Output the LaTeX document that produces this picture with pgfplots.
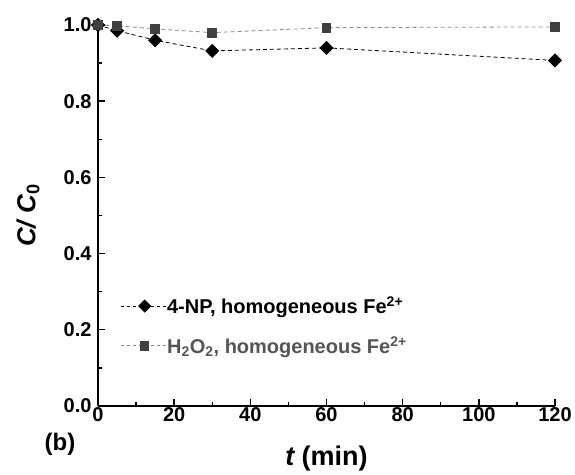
\documentclass[border=0pt]{standalone}
\usepackage{pgfplots}
\pgfplotsset{compat=1.18}
\usepackage{fontspec}
\setmainfont{Liberation Sans}
\definecolor{sqgray}{HTML}{404040}
\definecolor{lngray}{HTML}{8A8A8A}
\definecolor{txgray}{HTML}{555555}
\begin{document}
\begin{tikzpicture}
\begin{axis}[
  scale only axis, width=457pt, height=381pt,
  xmin=0, xmax=120, ymin=0, ymax=1.0,
  axis x line*=bottom, axis y line*=left,
  axis line style={line width=1.6pt, -},
  tick style={line width=1.4pt, black},
  tick align=inside,
  major tick length=7pt, minor tick length=4pt,
  xtick={0,20,...,120}, minor xtick={10,30,...,110},
  ytick={0,0.2,...,1.0}, minor ytick={0.1,0.3,...,0.9},
  /pgf/number format/assume math mode=true,
  xticklabel style={font=\fontsize{20}{22}\selectfont\bfseries, /pgf/number format/fixed, yshift=2pt},
  yticklabel style={font=\fontsize{20}{22}\selectfont\bfseries, /pgf/number format/fixed, /pgf/number format/fixed zerofill, /pgf/number format/precision=1, xshift=-3pt},
  xlabel={\bfseries\itshape t\upshape\ (min)},
  ylabel={\bfseries\itshape C/ C\textsubscript{\upshape 0}},
  xlabel style={font=\fontsize{27}{30}\selectfont, at={(axis description cs:0.5,0)}, anchor=center, yshift=-53pt},
  ylabel style={font=\fontsize{26}{29}\selectfont, at={(axis description cs:0,0.5)}, anchor=center, rotate=0, yshift=70pt},
  clip=false,
  legend style={draw=none, fill=none, at={(axis cs:5.8,0.29)}, anchor=north west, font=\fontsize{20}{22}\selectfont\bfseries, row sep=19pt, inner sep=0pt, nodes={inner sep=1pt}},
  legend cell align=left,
  legend image code/.code={\draw[#1, dash pattern=on 3pt off 3pt] (0pt,0pt) -- (45pt,0pt); \draw[#1, only marks, mark size=0.92*\pgfplotmarksize] plot coordinates {(24pt,0pt)};},
]
\addplot[black, line width=0.8pt, dash pattern=on 4pt off 3pt, mark=square*, mark size=4.6pt, mark options={solid, fill=black, rotate=45}] coordinates {
  (0,1.0) (5,0.985) (15,0.96) (30,0.932) (60,0.94) (120,0.907)};
\addlegendentry{4-NP, homogeneous Fe\textsuperscript{2+}}
\addplot[lngray, line width=0.8pt, dash pattern=on 4pt off 3pt, mark=square*, mark size=4.4pt, mark options={solid, fill=sqgray, draw=sqgray}] coordinates {
  (0,1.0) (5,0.998) (15,0.99) (30,0.98) (60,0.993) (120,0.995)};
\addlegendentry{\textcolor{txgray}{H\textsubscript{2}O\textsubscript{2}, homogeneous Fe\textsuperscript{2+}}}
\node[font=\fontsize{24}{27}\selectfont\bfseries, anchor=center] at (axis description cs:-0.083,-0.1) {(b)};
\end{axis}
\path ([xshift=-98pt,yshift=-68pt]current axis.south west) rectangle ([xshift=20pt,yshift=25pt]current axis.north east);
\end{tikzpicture}
\end{document}
